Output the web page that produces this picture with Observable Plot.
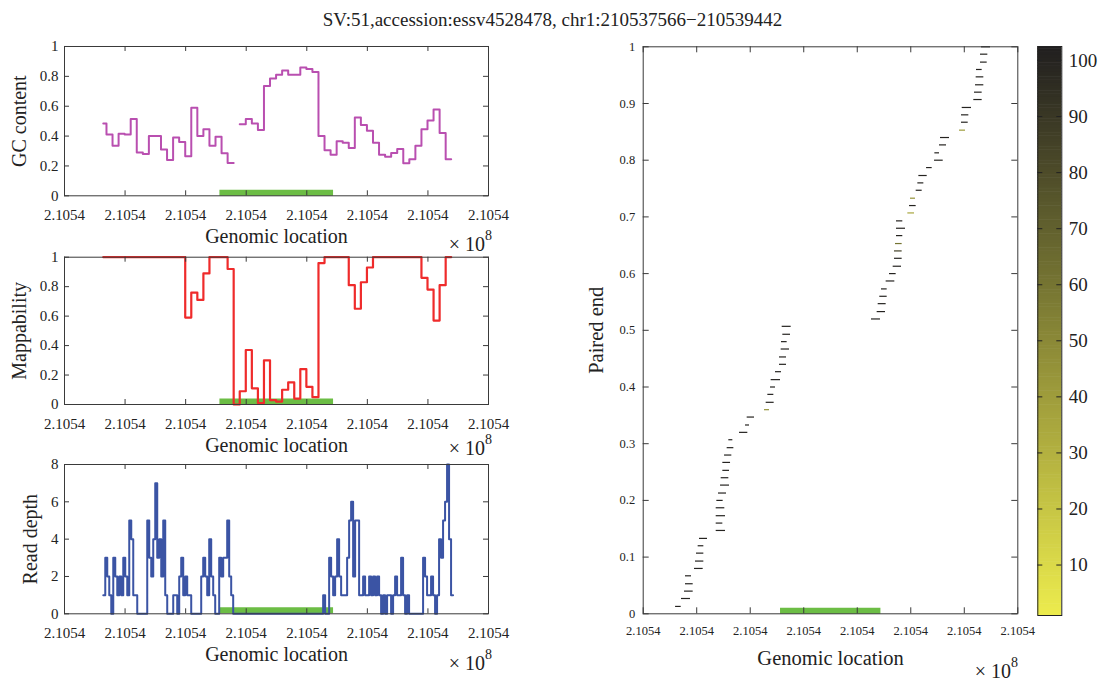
<!DOCTYPE html>
<html><head><meta charset="utf-8">
<script src="https://cdn.jsdelivr.net/npm/d3@7"></script>
<script src="https://cdn.jsdelivr.net/npm/@observablehq/plot@0.6"></script>
<style>
body{margin:0;background:#fff;}
#root{position:relative;width:1105px;height:682px;overflow:hidden;font-family:"Liberation Serif","Times New Roman",serif;color:#222;background:#fff;}
#root svg{position:absolute;}
.title{position:absolute;left:0;width:1105px;top:10px;text-align:center;font-size:19px;line-height:19px;white-space:nowrap;}
.exp{position:absolute;font-size:20px;line-height:20px;white-space:nowrap;}
.exp sup{font-size:14px;position:relative;top:-11px;vertical-align:baseline;}
</style></head>
<body><div id="root"></div>
<script>
// ---------------- data ----------------
const TITLE = "SV:51,accession:essv4528478, chr1:210537566\u2212210539442";
const svStart = 210537566, svEnd = 210539442;
const xTicks = [210535000,210536000,210537000,210538000,210539000,210540000,210541000,210542000];
const xDomain = [210535000, 210542000];

// 100 bp bins (first and last bins are partial)
const binFirst = 210535640, binGrid = 210535693, binSize = 100, binLast = 210541384;
const gcY = [0.485,0.41,0.335,0.415,0.41,0.515,0.29,0.28,0.40,0.40,0.31,0.24,0.39,0.36,0.265,0.59,0.40,0.445,0.335,0.395,0.285,0.22,null,
  0.48,0.515,0.485,0.44,0.735,0.785,0.81,0.84,0.81,0.81,0.86,0.85,0.83,0.40,0.305,0.275,0.365,0.355,0.32,0.525,0.475,0.435,0.355,0.275,0.262,0.287,0.313,0.218,0.245,0.335,0.445,0.505,0.578,0.42,0.245];
const mapY = [1,1,1,1,1,1,1,1,1,1,1,1,1,1,0.59,0.76,0.71,0.89,1,1,1,0.92,0.0,
  0.09,0.37,0.11,0.01,0.30,0.03,0.02,0.10,0.15,0.04,0.24,0.12,0.05,0.96,1,1,1,1,0.81,0.65,0.83,0.93,1,1,1,1,1,1,1,1,0.86,0.78,0.57,0.81,1];

// read depth, 33 bp columns
const rdStart = 210535640, rdStep = 33;
const rdY = [1,3,2,1,0,3,2,1,2,1, 3,2,1,5,4,1,1,0,0,0, 0,0,5,3,2,4,7,3,4,2, 5,1,0,0,0,1,1,0,2,3,
  1,2,1,1,0,0,0,0,0,2, 3,2,1,4,2,1,0,0,3,2, 3,3,5,2,1,0,0,0,0,0,
  0,0,0,0,0,0,0,0,0,0, 0,0,0,0,0,0,0,0,0,0, 0,0,0,0,0,0,0,0,0,0, 0,0,0,0,0,0,0,0,0,0,
  1,0,0,3,2,1,2,4,2,1, 1,1,3,5,6,2,5,5,1,1, 2,1,1,2,1,2,1,2,1,0, 1,0,1,1,0,1,2,1,1,3,
  1,0,1,0,0,0,0,0,0,0, 3,2,1,1,2,1,0,1,4,3, 5,6,8,4,1];

// paired-end reads: start, end (bp), normalised rank, count
const peX1 = [210535605,210535716,210535772,210535790,210535790,210535959,210535977,210535996,210536027,210536052,
  210536364,210536364,210536364,210536364,210536376,210536407,210536445,210536457,210536488,210536488,
  210536520,210536569,210536600,210536800,210536912,210536943,210537267,210537298,210537329,210537379,
  210537391,210537472,210537547,210537547,210537578,210537584,210537609,210537597,
  210539266,210539372,210539391,210539421,210539453,210539540,210539603,210539671,210539696,210539696,
  210539715,210539733,210539733,210539733,210539945,210539977,210539995,210540101,210540132,210540151,
  210540295,210540444,210540450,210540537,210540556,210540911,210540948,210540948,210540961,210541178,
  210541191,210541210,210541222,210541228,210541303,210541303,210541322];
const peX2 = [210535710,210535884,210535934,210535934,210535903,210536121,210536133,210536133,210536133,210536202,
  210536538,210536488,210536538,210536525,210536494,210536557,210536613,210536600,210536613,210536632,
  210536656,210536694,210536675,210536955,210536987,210537080,210537360,210537447,210537441,210537472,
  210537566,210537584,210537678,210537678,210537734,210537690,210537753,210537765,
  210539434,210539528,210539540,210539559,210539559,210539702,210539727,210539827,210539839,210539839,
  210539839,210539851,210539902,210539851,210540070,210540101,210540088,210540213,210540244,210540307,
  210540400,210540606,210540537,210540668,210540724,210541023,210541073,210541085,210541135,210541334,
  210541334,210541365,210541365,210541334,210541428,210541440,210541490];
const peY = [0.013,0.027,0.040,0.053,0.067,0.080,0.093,0.107,0.120,0.133,0.147,0.160,0.173,0.187,0.200,0.213,0.227,0.240,0.253,0.267,
  0.280,0.293,0.307,0.320,0.333,0.347,0.360,0.373,0.387,0.400,0.413,0.427,0.440,0.453,0.467,0.480,0.493,0.507,
  0.520,0.533,0.547,0.560,0.573,0.587,0.600,0.613,0.627,0.640,0.653,0.667,0.680,0.693,0.707,0.720,0.733,0.747,0.760,0.773,
  0.787,0.800,0.813,0.827,0.840,0.853,0.867,0.880,0.893,0.907,0.920,0.933,0.947,0.960,0.973,0.987,1.0];
const peC = [100,100,100,100,100,100,100,100,100,100, 100,100,100,100,100,100,100,100,100,100,
  100,100,100,100,100,100,45,100,100,100, 100,100,100,100,100,100,100,100,
  100,100,100,100,100,100,100,100,100,85, 60,100,100,100,35,100,45,100,100,100,
  100,100,100,100,100,40,100,100,100,100, 100,100,100,100,100,100,100];

const cbTicks = [10,20,30,40,50,60,70,80,90,100];
const cbDomain = [1, 102.5];
const gcTicks = [0,0.2,0.4,0.6,0.8,1];
const rdTicks = [0,2,4,6,8];
const peTicks = [0,0.1,0.2,0.3,0.4,0.5,0.6,0.7,0.8,0.9,1];

// ---------------- helpers ----------------
const FONT = '"Liberation Serif","Times New Roman",serif';
const GREEN = "#6cbd45", PURPLE = "#b94fb0", RED = "#ef2b2b", BLUE = "#3b54a4", AX = "#3a3a3a";
const cscale = d3.scaleLinear().domain(cbDomain).range(["#eceb4d", "#201e1f"]).interpolate(d3.interpolateRgb);
const fmtX = d => (d / 1e8).toFixed(4);
const fmtY = d => String(+(+d).toFixed(1));
const root = document.getElementById("root");

const nBins = gcY.length;
const binStarts = gcY.map((_, i) => i === 0 ? binFirst : binGrid + (i - 1) * binSize);
const binEnds = gcY.map((_, i) => i === nBins - 1 ? binLast : binGrid + i * binSize);
function stairs(starts, ends, vals) {
  const out = [];
  vals.forEach((v, i) => {
    if (v == null) { out.push({x: starts[i], y: NaN}); return; }
    out.push({x: starts[i], y: v}, {x: ends[i], y: v});
  });
  return out;
}
const gcData = stairs(binStarts, binEnds, gcY);
const mapData = stairs(binStarts, binEnds, mapY);
const rdStarts = rdY.map((_, i) => rdStart + i * rdStep);
const rdData = stairs(rdStarts, rdStarts.map(s => s + rdStep), rdY);
const svData = [{start: svStart, end: svEnd, y: 0}];
const peData = peY.map((y, i) => ({x1: peX1[i], x2: peX2[i], y, c: peC[i]}));

function tickRules(xt, yt, pw, ph, len) {
  return [
    Plot.ruleX(xt, {insetTop: ph - len, stroke: AX}),
    Plot.ruleX(xt, {insetBottom: ph - len, stroke: AX}),
    Plot.ruleY(yt, {insetRight: pw - len, stroke: AX}),
    Plot.ruleY(yt, {insetLeft: pw - len, stroke: AX})
  ];
}
function place(el, left, top) {
  el.style.left = left + "px"; el.style.top = top + "px";
  root.appendChild(el);
}
function exp(rightEdge, top) {
  const d = document.createElement("div");
  d.className = "exp";
  d.innerHTML = "\u00d7 10<sup>8</sup>";
  d.style.right = (1105 - rightEdge) + "px";
  d.style.top = top + "px";
  root.appendChild(d);
}

function leftPanel({top, mTop, ph, mBottom, yDomain, yTicks, yLabel, yLabelDx, marks}) {
  const pw = 424;
  const p = Plot.plot({
    width: 540, height: mTop + ph + mBottom,
    marginLeft: 64, marginRight: 52, marginTop: mTop, marginBottom: mBottom,
    style: {fontFamily: FONT, fontSize: "15px", color: "#222", background: "transparent", overflow: "visible"},
    x: {domain: xDomain, label: null},
    y: {domain: yDomain, label: null},
    marks: [
      ...marks,
      Plot.frame({stroke: AX}),
      ...tickRules(xTicks, yTicks, pw, ph, 5),
      Plot.axisX(xTicks, {tickSize: 0, tickPadding: 14, tickFormat: fmtX, fontSize: 15, label: null}),
      Plot.axisY(yTicks, {tickSize: 0, tickPadding: 6, tickFormat: fmtY, fontSize: 15, label: null}),
      Plot.text(["Genomic location"], {frameAnchor: "bottom", dy: 47, fontSize: 20, lineAnchor: "bottom", textAnchor: "middle", fill: "#222"}),
      Plot.text([yLabel], {frameAnchor: "left", rotate: -90, dx: yLabelDx, fontSize: 20, lineAnchor: "bottom", textAnchor: "middle", fill: "#222"})
    ]
  });
  place(p, 0, top);
}

// ---------------- title ----------------
const t = document.createElement("div");
t.className = "title"; t.textContent = TITLE; root.appendChild(t);

// ---------------- GC content ----------------
leftPanel({top: 30, mTop: 16, ph: 149.3, mBottom: 60, yDomain: [0, 1], yTicks: gcTicks,
  yLabel: "GC content", yLabelDx: -39,
  marks: [
    Plot.ruleY(svData, {x1: "start", x2: "end", y: "y", stroke: GREEN, strokeWidth: 6, dy: -3}),
    Plot.line(gcData, {x: "x", y: "y", stroke: PURPLE, strokeWidth: 2})
  ]});
exp(492, 234);

// ---------------- Mappability ----------------
leftPanel({top: 240, mTop: 16.7, ph: 147.3, mBottom: 60, yDomain: [0, 1], yTicks: gcTicks,
  yLabel: "Mappability", yLabelDx: -39,
  marks: [
    Plot.ruleY(svData, {x1: "start", x2: "end", y: "y", stroke: GREEN, strokeWidth: 6, dy: -3}),
    Plot.line(mapData, {x: "x", y: "y", stroke: RED, strokeWidth: 2.2})
  ]});
exp(492, 438);

// ---------------- Read depth ----------------
leftPanel({top: 448, mTop: 16, ph: 149.3, mBottom: 68.7, yDomain: [0, 8], yTicks: rdTicks,
  yLabel: "Read depth", yLabelDx: -27.5,
  marks: [
    Plot.ruleY(svData, {x1: "start", x2: "end", y: "y", stroke: GREEN, strokeWidth: 6, dy: -3.5}),
    Plot.line(rdData, {x: "x", y: "y", stroke: BLUE, strokeWidth: 2})
  ]});
exp(492, 653);

// ---------------- Paired end ----------------
{
  const pw = 374.6, ph = 567;
  const p = Plot.plot({
    width: 480, height: 652, marginLeft: 82.7, marginRight: 22.7, marginTop: 16.3, marginBottom: 68.7,
    style: {fontFamily: FONT, fontSize: "12.5px", color: "#222", background: "transparent", overflow: "visible"},
    x: {domain: xDomain, label: null},
    y: {domain: [0, 1], label: null},
    marks: [
      Plot.ruleY(svData, {x1: "start", x2: "end", y: "y", stroke: GREEN, strokeWidth: 6, dy: -3}),
      Plot.ruleY(peData, {x1: "x1", x2: "x2", y: "y", stroke: d => cscale(d.c), strokeWidth: 1.2}),
      Plot.frame({stroke: AX}),
      ...tickRules(xTicks, peTicks, pw, ph, 6),
      Plot.axisX(xTicks, {tickSize: 0, tickPadding: 12, tickFormat: fmtX, fontSize: 12.5, label: null}),
      Plot.axisY(peTicks, {tickSize: 0, tickPadding: 8, tickFormat: fmtY, fontSize: 12.5, label: null}),
      Plot.text(["Genomic location"], {frameAnchor: "bottom", dy: 51, fontSize: 20.5, lineAnchor: "bottom", textAnchor: "middle", fill: "#222"}),
      Plot.text(["Paired end"], {frameAnchor: "left", rotate: -90, dx: -40.7, fontSize: 20.5, lineAnchor: "bottom", textAnchor: "middle", fill: "#222"})
    ]
  });
  place(p, 560, 30);
  exp(1018, 661);
}

// ---------------- colour bar ----------------
{
  const steps = d3.range(cbDomain[0], cbDomain[1], 0.5);
  const ph = 569, pw = 24;
  const p = Plot.plot({
    width: 85, height: 600, marginLeft: 17.3, marginRight: 43.7, marginTop: 16, marginBottom: 15,
    style: {fontFamily: FONT, fontSize: "19px", color: "#222", background: "transparent", overflow: "visible"},
    x: {domain: [0, 1], axis: null},
    y: {domain: cbDomain, label: null},
    marks: [
      Plot.rect(steps, {x1: 0, x2: 1, y1: d => d, y2: d => Math.min(d + 0.6, cbDomain[1]), fill: d => cscale(d)}),
      Plot.frame({stroke: "#222"}),
      Plot.ruleY(cbTicks, {insetRight: pw - 5, stroke: "#222"}),
      Plot.ruleY(cbTicks, {insetLeft: pw - 5, stroke: "#222"}),
      Plot.axisY(cbTicks, {anchor: "right", tickSize: 0, tickPadding: 7, fontSize: 19, label: null})
    ]
  });
  place(p, 1020, 30);
}
</script>
</body></html>
